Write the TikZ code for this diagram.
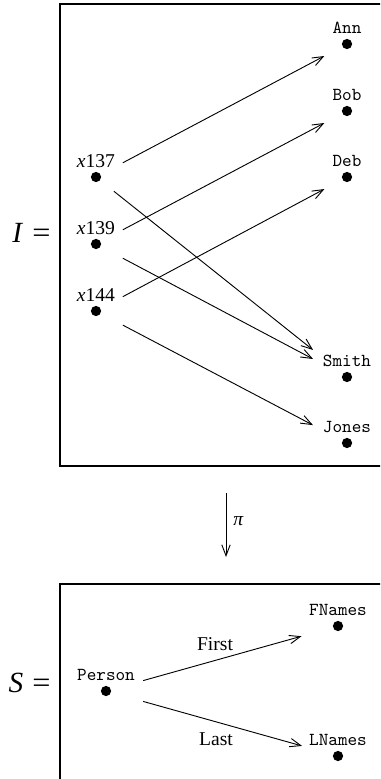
\documentclass[tikz,border=0pt]{standalone}
\usepackage{fontspec}
\setmainfont{Liberation Serif}
\usetikzlibrary{arrows.meta}
\begin{document}
\begin{tikzpicture}[x=0.5464pt,y=-0.5464pt,
  dot/.style={circle,fill,inner sep=0pt,minimum size=5.6pt},
  lbl/.style={anchor=base,inner sep=0pt,font=\fontsize{10.7}{13}\selectfont},
  ttlbl/.style={anchor=base,inner sep=0pt,font=\ttfamily\fontsize{10}{12}\selectfont},
  arr/.style={-{Straight Barb[length=6pt,width=4.6pt]},line width=0.5pt},
  frame/.style={line width=0.9pt},
  eqlbl/.style={anchor=east,inner sep=0pt,font=\fontsize{16}{19}\selectfont}]
\useasboundingbox (0,0) rectangle (380,779);
\clip (0,0) rectangle (380,779);
% frames
\draw[frame] (60,4) rectangle (420,466);
\draw[frame] (60,584.3) rectangle (420,820);
\node[eqlbl] (Ieq) at (51,233) {\textit{I}\kern5pt\scalebox{1.1}[1]{=}};
\node[eqlbl] (Seq) at (51,683) {\textit{S}\kern5pt\scalebox{1.1}[1]{=}};
% instance I
\node[dot] (x137) at (96,177) {};
\node[dot] (x139) at (96,244) {};
\node[dot] (x144) at (96,311) {};
\node[lbl] (x137l) at (96,167) {\textit{x}137};
\node[lbl] (x139l) at (96,234) {\textit{x}139};
\node[lbl] (x144l) at (96,301) {\textit{x}144};
\node[dot] (ann) at (347,44) {};
\node[dot] (bob) at (347,111) {};
\node[dot] (deb) at (347,177) {};
\node[dot] (smith) at (347,377) {};
\node[dot] (jones) at (347,443) {};
\node[ttlbl] (annl) at (347,33) {Ann};
\node[ttlbl] (bobl) at (347,100) {Bob};
\node[ttlbl] (debl) at (347,166) {Deb};
\node[ttlbl] (smithl) at (347,366) {Smith};
\node[ttlbl] (jonesl) at (347,432) {Jones};
\draw[arr,shorten <=16.6pt,shorten >=14pt] (x137.center) -- (ann.center);
\draw[arr,shorten <=16.6pt,shorten >=14pt] (x139.center) -- (bob.center);
\draw[arr,shorten <=16.6pt,shorten >=14pt] (x144.center) -- (deb.center);
\draw[arr,shorten <=12.5pt,shorten >=23.7pt] (x137.center) -- (smith.center);
\draw[arr,shorten <=16.6pt,shorten >=21pt] (x139.center) -- (smith.center);
\draw[arr,shorten <=16.6pt,shorten >=21pt] (x144.center) -- (jones.center);
% projection
\coordinate (pitop) at (226,493);
\coordinate (pibot) at (226,557);
\draw[arr] (pitop) -- (pibot);
\node[inner sep=0pt,font=\fontsize{10.7}{13}\selectfont] (pil) at (238.5,521.5) {\textit{π}};
% schema S
\node[dot] (person) at (106,691) {};
\node[dot] (fnames) at (338,626) {};
\node[dot] (lnames) at (338,756) {};
\node[ttlbl] (personl) at (106,680) {Person};
\node[ttlbl] (fnamesl) at (338,615) {FNames};
\node[ttlbl] (lnamesl) at (338,745) {LNames};
\draw[arr,shorten <=21.1pt,shorten >=20.7pt] (person.center) -- (fnames.center);
\draw[arr,shorten <=21.1pt,shorten >=20.4pt] (person.center) -- (lnames.center);
\node[inner sep=0pt,font=\fontsize{10.7}{13}\selectfont] (first) at (215,644) {First};
\node[inner sep=0pt,font=\fontsize{10.7}{13}\selectfont] (last) at (216,739) {Last};
\end{tikzpicture}
\end{document}
